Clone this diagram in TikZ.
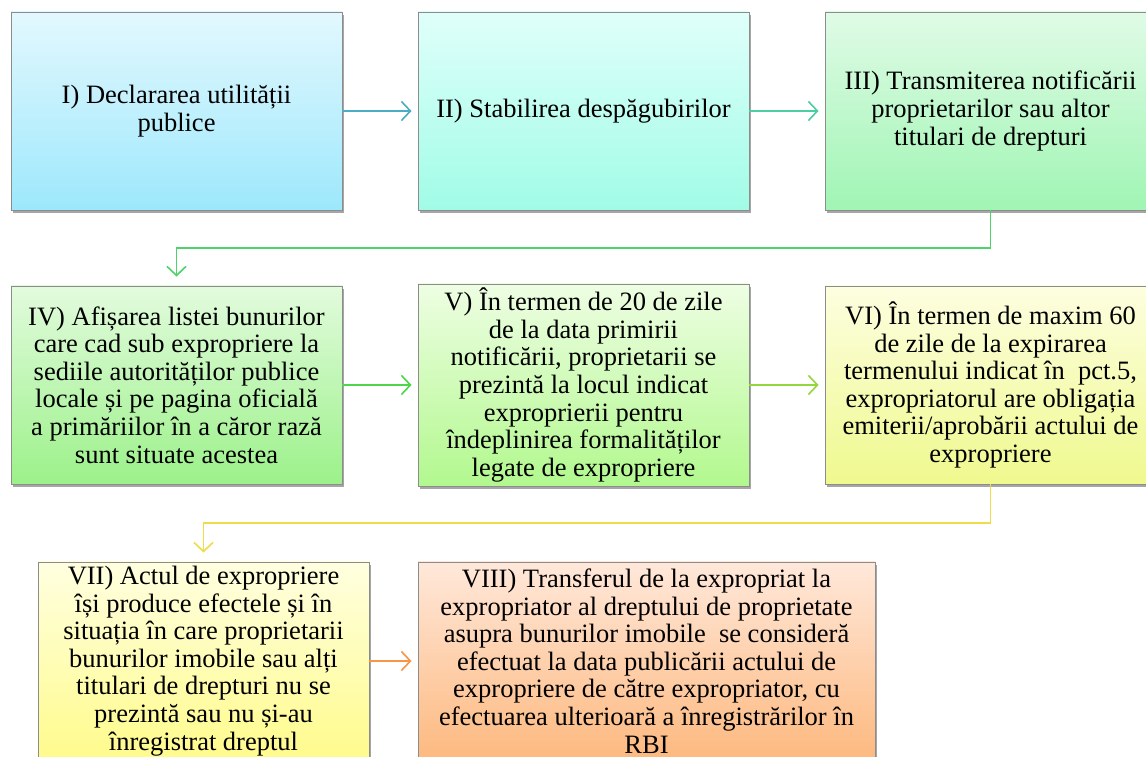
\documentclass[tikz,border=0pt]{standalone}
\usepackage{fontspec}
\setmainfont{Liberation Serif}
\usetikzlibrary{arrows.meta,shadows}
\definecolor{bordergray}{HTML}{8C8C8C}
\definecolor{arI}{HTML}{4BACC6}
\definecolor{arII}{HTML}{4CCDA4}
\definecolor{arIII}{HTML}{4CD46A}
\definecolor{arIV}{HTML}{4FD44A}
\definecolor{arV}{HTML}{92D83C}
\definecolor{arVI}{HTML}{EEDC48}
\definecolor{arVII}{HTML}{F79646}
\tikzset{
  stepbox/.style={draw=bordergray, line width=0.9pt, rectangle, minimum width=331pt,
    minimum height=198pt, inner sep=4pt, align=center,
    font=\fontsize{26.5}{27.6}\selectfont,
    drop shadow={shadow xshift=2pt, shadow yshift=-3pt, opacity=0.35, fill=black}},
  link/.style={line width=1.6pt, -{Straight Barb[length=9pt,width=19pt,line width=1.6pt]}}
}
\begin{document}
\begin{tikzpicture}[x=1pt,y=1pt]
\useasboundingbox (0,0) rectangle (1146,757);
\clip (0,0) rectangle (1146,757);
\fill[white] (0,0) rectangle (1146,757);
% Row 1
\node[stepbox, top color={rgb,255:red,227;green,248;blue,254}, bottom color={rgb,255:red,157;green,232;blue,252}] (n1) at (176.5,646)
  {I) Declararea utilității\\publice};
\node[stepbox, top color={rgb,255:red,224;green,255;blue,251}, bottom color={rgb,255:red,160;green,252;blue,230}] (n2) at (583.5,646)
  {II) Stabilirea despăgubirilor};
\node[stepbox, top color={rgb,255:red,224;green,251;blue,230}, bottom color={rgb,255:red,160;green,245;blue,180}] (n3) at (990.5,646)
  {III) Transmiterea notificării\\proprietarilor sau altor\\titulari de drepturi};
% Row 2
\node[stepbox, top color={rgb,255:red,226;green,251;blue,221}, bottom color={rgb,255:red,156;green,241;blue,138}] (n4) at (176.5,372)
  {IV) Afișarea listei bunurilor\\care cad sub expropriere la\\sediile autorităților publice\\locale și pe pagina oficială\\a primăriilor în a căror rază\\sunt situate acestea};
\node[stepbox, top color={rgb,255:red,238;green,254;blue,227}, bottom color={rgb,255:red,178;green,248;blue,142}] (n5) at (583.5,372)
  {V) În termen de 20 de zile\\de la data primirii\\notificării, proprietarii se\\prezintă la locul indicat\\exproprierii pentru\\îndeplinirea formalităților\\legate de expropriere};
\node[stepbox, top color={rgb,255:red,253;green,254;blue,224}, bottom color={rgb,255:red,239;green,249;blue,142}] (n6) at (990.5,372)
  {VI) În termen de maxim 60\\de zile de la expirarea\\termenului indicat în~ pct.5,\\expropriatorul are obligația\\emiterii/aprobării actului de\\expropriere};
% Row 3
\node[stepbox, top color={rgb,255:red,255;green,255;blue,224}, bottom color={rgb,255:red,255;green,251;blue,140}] (n7) at (203.5,96)
  {VII) Actul de expropriere\\își produce efectele și în\\situația în care proprietarii\\bunurilor imobile sau alți\\titulari de drepturi nu se\\prezintă sau nu și-au\\înregistrat dreptul};
\node[stepbox, minimum width=457pt, top color={rgb,255:red,255;green,232;blue,218}, bottom color={rgb,255:red,253;green,185;blue,127}] (n8) at (646.5,96)
  {VIII) Transferul de la expropriat la\\expropriator al dreptului de proprietate\\asupra bunurilor imobile~ se consideră\\efectuat la data publicării actului de\\expropriere de către expropriator, cu\\efectuarea ulterioară a înregistrărilor în\\RBI};
% Connectors
\draw[link, arI, shorten >=6pt] (n1.east) -- (n2.west);
\draw[link, arII, shorten >=6pt] (n2.east) -- (n3.west);
\draw[link, arIII, shorten >=9pt] (n3.south) |- (176.5,509) coordinate (c34) -- (n4.north);
\draw[link, arIV, shorten >=6pt] (n4.east) -- (n5.west);
\draw[link, arV, shorten >=6pt] (n5.east) -- (n6.west);
\draw[link, arVI, shorten >=9pt] (n6.south) |- (203.5,234) coordinate (c67) -- (n7.north);
\draw[link, arVII, shorten >=6pt] (n7.east) -- (n8.west);
\end{tikzpicture}
\end{document}
